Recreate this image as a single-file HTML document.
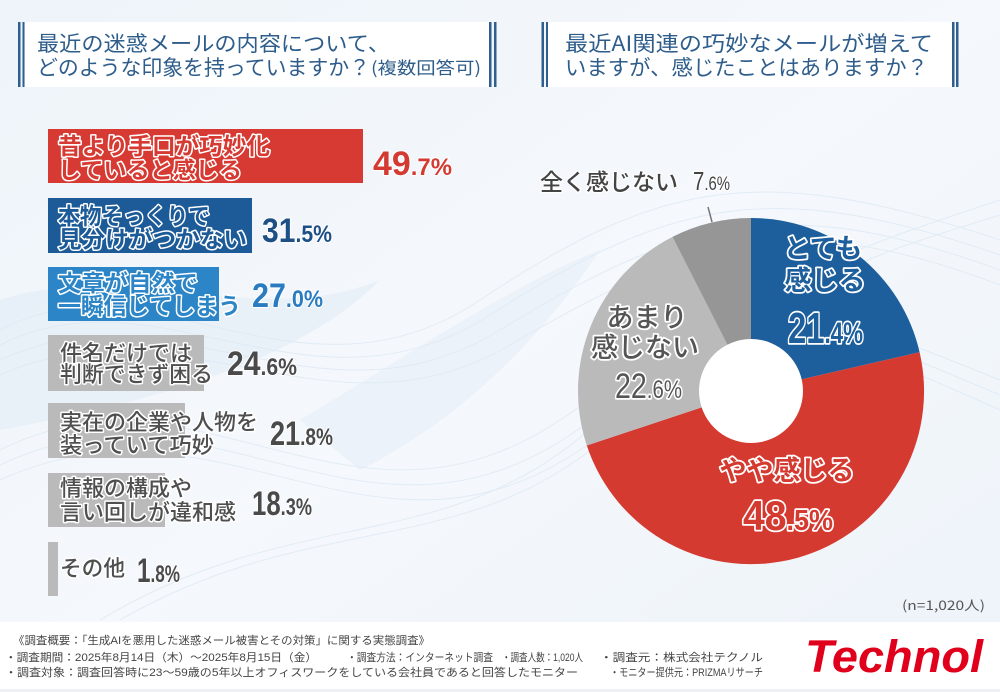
<!DOCTYPE html>
<html><head><meta charset="utf-8"><style>
html,body{margin:0;padding:0;background:#fff}
svg{display:block}
text{font-family:"Liberation Sans","Noto Sans CJK JP",sans-serif}
.jp{font-family:"Noto Sans CJK JP","Liberation Sans",sans-serif}
.o{paint-order:stroke;stroke:#fff;stroke-linejoin:round}
</style></head><body>
<svg width="1000" height="692" viewBox="0 0 1000 692" xmlns="http://www.w3.org/2000/svg">
<defs>
<linearGradient id="bg" x1="0" y1="0" x2="1" y2="1">
<stop offset="0" stop-color="#eef4fa"/><stop offset="0.5" stop-color="#f5f8fc"/><stop offset="1" stop-color="#edf3f9"/>
</linearGradient>
</defs>
<rect width="1000" height="692" fill="url(#bg)"/>
<g fill="none" stroke="#cfe1f1" stroke-width="1" opacity="0.5">
<path d="M0,330 C150,250 300,420 480,300 S760,160 1000,240"/>
<path d="M0,345 C160,265 310,430 490,315 S770,175 1000,255"/>
<path d="M0,360 C170,280 320,440 500,330 S780,190 1000,270"/>
<path d="M0,375 C180,295 330,450 510,345 S790,205 1000,285"/>
<path d="M0,450 C200,350 350,560 560,420 S800,300 1000,380"/>
<path d="M0,465 C210,365 360,575 570,435 S810,315 1000,395"/>
<path d="M0,480 C220,380 370,590 580,450 S820,330 1000,410"/>
<path d="M100,620 C300,500 450,560 600,420 S850,250 1000,200"/>
<path d="M120,620 C320,505 470,565 620,425 S870,255 1000,215"/>
</g>
<path d="M0,300 C120,260 260,330 380,280 C300,360 160,400 0,430 Z" fill="#dde9f5" opacity="0.5"/>
<path d="M300,420 C400,360 520,280 600,250 C540,340 460,420 360,470 Z" fill="#e1ecf6" opacity="0.45"/>

<rect x="25" y="22" width="465" height="65" fill="#fff"/>
<rect x="18" y="22" width="2.5" height="65" fill="#2f5f8f"/>
<rect x="22.5" y="22" width="2" height="65" fill="#2f5f8f"/>
<rect x="489" y="22" width="2.5" height="65" fill="#2f5f8f"/>
<rect x="494" y="22" width="2.5" height="65" fill="#2f5f8f"/>
<text class="jp" x="37" y="51" font-size="21" fill="#2e5d8b" textLength="353" lengthAdjust="spacingAndGlyphs">最近の迷惑メールの内容について、</text>
<text class="jp" x="37" y="75" font-size="21" fill="#2e5d8b" textLength="333" lengthAdjust="spacingAndGlyphs">どのような印象を持っていますか？</text>
<text class="jp" x="371" y="74" font-size="17" fill="#2e5d8b" textLength="110" lengthAdjust="spacingAndGlyphs">(複数回答可)</text>

<rect x="548" y="22" width="404" height="65" fill="#fff"/>
<rect x="541.5" y="22" width="2.5" height="65" fill="#2f5f8f"/>
<rect x="546" y="22" width="2" height="65" fill="#2f5f8f"/>
<rect x="952" y="22" width="2.5" height="65" fill="#2f5f8f"/>
<rect x="956" y="22" width="2.5" height="65" fill="#2f5f8f"/>
<text class="jp" x="565" y="51" font-size="21" fill="#2e5d8b" textLength="368" lengthAdjust="spacingAndGlyphs">最近AI関連の巧妙なメールが増えて</text>
<text class="jp" x="565" y="75" font-size="21" fill="#2e5d8b" textLength="363" lengthAdjust="spacingAndGlyphs">いますが、感じたことはありますか？</text>

<rect x="48" y="129" width="315" height="54" fill="#d63a32"/>
<rect x="48" y="198" width="204" height="55" fill="#1c5b98"/>
<rect x="48" y="267" width="171" height="54" fill="#2c85c7"/>
<rect x="48" y="335" width="156" height="56" fill="#bababa"/>
<rect x="48" y="403" width="137" height="55" fill="#bababa"/>
<rect x="48" y="473" width="117" height="54" fill="#bababa"/>
<rect x="48" y="542" width="10" height="54" fill="#bababa"/>

<g class="jp" font-weight="bold" font-size="23">
<text class="o" x="58" y="154" fill="#d63a32" stroke-width="3" textLength="212" lengthAdjust="spacingAndGlyphs">昔より手口が巧妙化</text>
<text class="o" x="58" y="178" fill="#d63a32" stroke-width="3" textLength="184" lengthAdjust="spacingAndGlyphs">していると感じる</text>
<text class="o" x="58" y="224" fill="#1c5b98" stroke-width="3" textLength="152" lengthAdjust="spacingAndGlyphs">本物そっくりで</text>
<text class="o" x="58" y="247" fill="#1c5b98" stroke-width="3" textLength="189" lengthAdjust="spacingAndGlyphs">見分けがつかない</text>
<text class="o" x="58" y="291" fill="#2c85c7" stroke-width="3" textLength="140" lengthAdjust="spacingAndGlyphs">文章が自然で</text>
<text class="o" x="58" y="314" fill="#2c85c7" stroke-width="3" textLength="183" lengthAdjust="spacingAndGlyphs">一瞬信じてしまう</text>
</g>
<g class="jp" font-weight="500" font-size="22" fill="#4f4f4f">
<text class="o" x="60" y="361" stroke-width="3" textLength="132" lengthAdjust="spacingAndGlyphs">件名だけでは</text>
<text class="o" x="60" y="382" stroke-width="3" textLength="153" lengthAdjust="spacingAndGlyphs">判断できず困る</text>
<text class="o" x="60" y="430" stroke-width="3" textLength="198" lengthAdjust="spacingAndGlyphs">実在の企業や人物を</text>
<text class="o" x="60" y="453" stroke-width="3" textLength="154" lengthAdjust="spacingAndGlyphs">装っていて巧妙</text>
<text class="o" x="60" y="496" stroke-width="3" textLength="132" lengthAdjust="spacingAndGlyphs">情報の構成や</text>
<text class="o" x="60" y="520" stroke-width="3" textLength="176" lengthAdjust="spacingAndGlyphs">言い回しが違和感</text>
<text class="o" x="60" y="576" stroke-width="3" textLength="65" lengthAdjust="spacingAndGlyphs">その他</text>
</g>

<g font-weight="bold">
<text class="o" x="373" y="175" fill="#d23a32" stroke-width="2" textLength="79" lengthAdjust="spacingAndGlyphs"><tspan font-size="34">49</tspan><tspan font-size="24">.7%</tspan></text>
<text class="o" x="262" y="242" fill="#1d4f86" stroke-width="2" textLength="70" lengthAdjust="spacingAndGlyphs"><tspan font-size="34">31</tspan><tspan font-size="24">.5%</tspan></text>
<text class="o" x="252" y="307" fill="#2a7bbf" stroke-width="2" textLength="71" lengthAdjust="spacingAndGlyphs"><tspan font-size="34">27</tspan><tspan font-size="24">.0%</tspan></text>
<text class="o" x="227" y="375" fill="#4a4a4a" stroke-width="2" textLength="70" lengthAdjust="spacingAndGlyphs"><tspan font-size="34">24</tspan><tspan font-size="24">.6%</tspan></text>
<text class="o" x="270" y="445" fill="#4a4a4a" stroke-width="2" textLength="63" lengthAdjust="spacingAndGlyphs"><tspan font-size="34">21</tspan><tspan font-size="24">.8%</tspan></text>
<text class="o" x="252" y="515" fill="#4a4a4a" stroke-width="2" textLength="60" lengthAdjust="spacingAndGlyphs"><tspan font-size="34">18</tspan><tspan font-size="24">.3%</tspan></text>
<text class="o" x="137" y="582" fill="#4a4a4a" stroke-width="2" textLength="43" lengthAdjust="spacingAndGlyphs"><tspan font-size="34">1</tspan><tspan font-size="24">.8%</tspan></text>
</g>

<path d="M751,391 L751,218 A173,173 0 0 1 919.6,352.2 Z" fill="#1d5e9c"/>
<path d="M751,391 L919.6,352.2 A173,173 0 0 1 586.8,445.5 Z" fill="#d53a30"/>
<path d="M751,391 L586.8,445.5 A173,173 0 0 1 672.5,236.9 Z" fill="#bababa"/>
<path d="M751,391 L672.5,236.9 A173,173 0 0 1 751,218 Z" fill="#969696"/>
<circle cx="751" cy="391" r="52" fill="#fff"/>
<line x1="708" y1="207" x2="712" y2="222" stroke="#777" stroke-width="1.5"/>

<g class="jp" font-weight="bold" font-size="27">
<text class="o" x="823" y="258" text-anchor="middle" fill="#1d5e9c" stroke-width="3.5">とても</text>
<text class="o" x="825" y="290" text-anchor="middle" fill="#1d5e9c" stroke-width="3.5">感じる</text>
<text class="o" x="647" y="327" text-anchor="middle" fill="#555" stroke-width="3.5" font-weight="500">あまり</text>
<text class="o" x="645" y="357" text-anchor="middle" fill="#555" stroke-width="3.5" font-weight="500">感じない</text>
<text class="o" x="787" y="480" text-anchor="middle" fill="#d53a30" stroke-width="3.5">やや感じる</text>
</g>
<text class="o" x="788" y="343" fill="#1d5e9c" stroke-width="3.5" font-weight="bold" textLength="75" lengthAdjust="spacingAndGlyphs"><tspan font-size="44">21</tspan><tspan font-size="30">.4%</tspan></text>
<text class="o" x="615" y="398" fill="#555" stroke-width="3.5" font-weight="500" textLength="67" lengthAdjust="spacingAndGlyphs"><tspan font-size="35">22</tspan><tspan font-size="25">.6%</tspan></text>
<text class="o" x="743" y="530" fill="#d53a30" stroke-width="3.5" font-weight="bold" textLength="90" lengthAdjust="spacingAndGlyphs"><tspan font-size="42">48</tspan><tspan font-size="29">.5%</tspan></text>

<text class="jp o" x="540" y="190" font-size="23" fill="#444" stroke-width="2.5" font-weight="500" textLength="138" lengthAdjust="spacingAndGlyphs">全く感じない</text>
<text class="o" x="693" y="190" fill="#444" stroke-width="2.5" font-weight="500" textLength="37" lengthAdjust="spacingAndGlyphs"><tspan font-size="26">7</tspan><tspan font-size="19">.6%</tspan></text>

<text class="jp" x="902" y="610" font-size="13" fill="#555" textLength="83" lengthAdjust="spacingAndGlyphs">(n=1,020人)</text>

<rect x="0" y="622" width="1000" height="70" fill="#fff"/>
<rect x="0" y="689" width="1000" height="3" fill="#eef1f4"/>
<g class="jp" font-size="11" fill="#444">
<text x="13" y="644" textLength="417" lengthAdjust="spacingAndGlyphs">《調査概要：「生成AIを悪用した迷惑メール被害とその対策」に関する実態調査》</text>
<text x="5" y="661" textLength="312" lengthAdjust="spacingAndGlyphs">・調査期間：2025年8月14日（木）～2025年8月15日（金）</text>
<text x="347" y="661" textLength="146" lengthAdjust="spacingAndGlyphs">・調査方法：インターネット調査</text>
<text x="502" y="661" textLength="81" lengthAdjust="spacingAndGlyphs">・調査人数：1,020人</text>
<text x="600" y="661" textLength="163" lengthAdjust="spacingAndGlyphs">・調査元：株式会社テクノル</text>
<text x="5" y="676" textLength="573" lengthAdjust="spacingAndGlyphs">・調査対象：調査回答時に23～59歳の5年以上オフィスワークをしている会社員であると回答したモニター</text>
<text x="610" y="676" textLength="153" lengthAdjust="spacingAndGlyphs">・モニター提供元：PRIZMAリサーチ</text>
</g>
<text x="805" y="672" font-size="45" font-weight="bold" font-style="italic" fill="#e0001b" textLength="178" lengthAdjust="spacingAndGlyphs">Technol</text>
</svg>
</body></html>
